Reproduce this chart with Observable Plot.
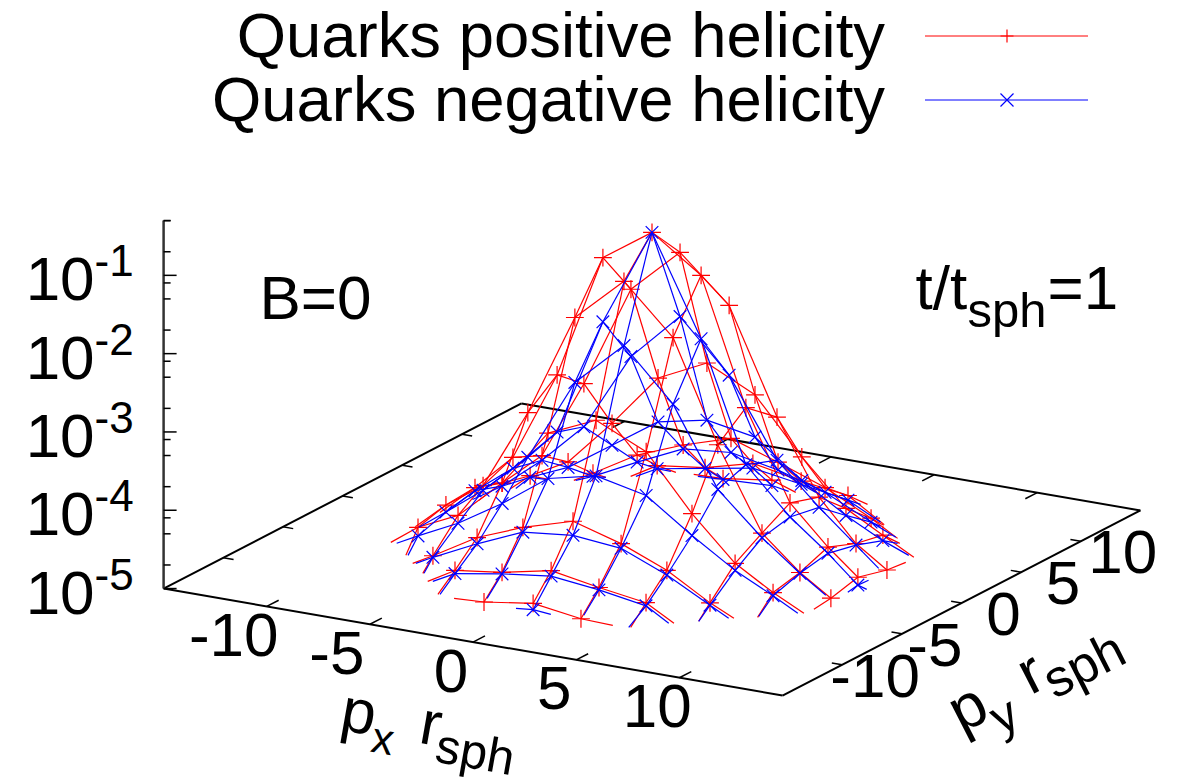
<!DOCTYPE html>
<html><head><meta charset="utf-8">
<script src="https://cdn.jsdelivr.net/npm/d3@7"></script>
<script src="https://cdn.jsdelivr.net/npm/@observablehq/plot@0.6"></script>
<style>
body{margin:0;background:#fff;font-family:"Liberation Sans",sans-serif;color:#000}
#legend{position:relative;z-index:1;width:1187px;height:130px}
#legend span{position:absolute;right:302px;font-size:63.4px;line-height:62px;white-space:nowrap}
#legend svg{position:absolute;left:925px;width:164px;height:16px;overflow:visible}
#chart svg{display:block}
</style></head><body>
<div id="legend">
<span style="top:4px">Quarks positive helicity</span>
<svg style="top:28px"><line x1="0" x2="163" y1="8" y2="8" stroke="#f00"/><path d="M82 1.5V14.5M75.5 8H88.5" stroke="#f00" stroke-width="1.2"/></svg>
<span style="top:68px">Quarks negative helicity</span>
<svg style="top:92px"><line x1="0" x2="163" y1="8" y2="8" stroke="#00f"/><path d="M75.5 1.5L88.5 14.5M75.5 14.5L88.5 1.5" stroke="#00f" stroke-width="1.2"/></svg>
</div>
<div id="chart"></div>
<script>
// momentum lattice: one row per p_y value
const pyRows   = [-10,-8.3,-6.5,-4.5,-2.35,0,2.35,4.5,6.5,8.3,10];
const latticeJ = [-5,-4,-3,-2,-1,0,1,2,3,4,5];
const firstI   = [-1,-2,-3,-4,-4,-4,-4,-4,-3,-2,-1];
const pxRows = [
 [-2.36,0.02,2.34],
 [-4.75,-2.47,-0.09,2.23,4.51],
 [-6.86,-4.72,-2.50,-0.07,2.26,4.48,6.57],
 [-8.74,-6.80,-4.66,-2.44,-0.11,2.32,4.54,6.63,8.47],
 [-8.63,-6.83,-4.66,-2.38,0,2.38,4.55,6.69,8.53,10.03],
 [-8.58,-6.74,-4.60,-2.38,0,2.38,4.55,6.69,8.53,9.98],
 [-8.63,-6.69,-4.66,-2.38,0,2.38,4.70,6.74,8.53,10.03],
 [-8.51,-6.67,-4.54,-2.31,0.06,2.39,4.66,6.80,8.59],
 [-6.62,-4.48,-2.25,0.07,2.35,4.63,6.86],
 [-4.55,-2.23,0.09,2.43,4.70],
 [-2.34,0.03]];
// log10 of the distribution, positive helicity
const redLog = [
 [-4.99,-4.90,-4.99],
 [-4.83,-4.75,-4.62,-4.73,-4.82],
 [-4.88,-4.55,-4.32,-4.13,-4.31,-4.55,-4.87],
 [-4.76,-4.52,-4.01,-3.27,-3.00,-3.29,-3.98,-4.52,-4.81],
 [-4.64,-4.31,-3.28,-1.96,-1.39,-2.00,-3.27,-4.30,-4.72,-4.98],
 [-4.60,-4.13,-2.98,-1.38,-0.95,-1.39,-2.98,-4.10,-4.58,-4.90],
 [-4.73,-4.29,-3.28,-1.97,-1.39,-1.96,-3.28,-4.21,-4.72,-4.99],
 [-4.80,-4.54,-3.95,-3.27,-2.97,-3.27,-3.96,-4.52,-4.78],
 [-4.84,-4.51,-4.28,-4.09,-4.29,-4.51,-4.80],
 [-4.79,-4.71,-4.55,-4.67,-4.75],
 [-4.99,-4.90]];
// log10 of the distribution, negative helicity (null: below the floor)
const blueLog = [
 [null,-4.98,null],
 [-4.87,-4.77,-4.69,-4.76,-4.86],
 [-4.90,-4.63,-4.38,-4.31,-4.37,-4.61,-4.90],
 [-4.87,-4.62,-4.27,-3.85,-3.71,-3.85,-4.26,-4.61,-4.85],
 [-4.73,-4.37,-3.85,-2.79,-2.21,-2.85,-3.84,-4.36,-4.73,null],
 [-4.64,-4.27,-3.71,-2.20,-0.95,-2.20,-3.71,-4.28,-4.66,-5.00],
 [-4.77,-4.35,-3.83,-2.83,-2.21,-2.85,-3.83,-4.34,-4.74,null],
 [-4.82,-4.61,-4.23,-3.83,-3.70,-3.81,-4.26,-4.61,-4.85],
 [-4.88,-4.60,-4.33,-4.27,-4.39,-4.57,-4.85],
 [-4.83,-4.72,-4.61,-4.71,-4.81],
 [-5.00,-4.97]];
// where outer grid lines leave the surface through the floor: [i, j, px, py]
const redExits = [[-4,-2,-9.99,-4.62],[-4,-2,-8.53,-5.88],[-3,-3,-7.72,-6.71],[-3,-3,-6.65,-7.71],[-2,-4,-5.91,-8.58],[-2,-4,-4.63,-9.94],[-1,-5,-3.76,-10.09],[1,-5,3.90,-10.03],[2,-4,5.98,-8.50],[2,-4,4.69,-9.90],[3,-3,7.81,-6.64],[3,-3,6.74,-7.74],[4,-2,10.0,-4.56],[4,-2,8.60,-6.02],[5,-1,10.08,-3.86],[5,1,10.12,3.77],[4,2,10.06,4.55],[4,2,8.57,5.95],[3,3,8.14,6.51],[3,3,6.72,7.80],[2,4,6.69,7.9],[2,4,4.66,10.01],[1,4,2.19,10.2],[0,5,1.21,9.96],[-1,5,-3.76,10.0],[-2,4,-5.91,8.43],[-2,4,-4.55,9.87],[-3,3,-7.70,6.76],[-3,3,-6.74,7.79],[-4,2,-9.42,4.45],[-4,2,-8.68,6.35],[-4,1,-9.74,2.33],[-4,0,-10.31,0.05],[-4,-1,-10.2,-2.2]];
const blueExits = [[-4,-2,-9.71,-4.61],[-4,-2,-8.45,-5.84],[-3,-3,-7.61,-6.64],[-3,-3,-6.61,-7.68],[-2,-4,-5.72,-8.48],[-2,-4,-4.55,-9.90],[-1,-4,-2.56,-9.40],[0,-5,-0.81,-10.0],[0,-5,0.88,-10.0],[1,-4,2.14,-9.42],[2,-4,5.79,-8.61],[2,-4,4.62,-9.94],[3,-3,7.62,-6.75],[3,-3,6.74,-7.74],[4,-2,9.78,-4.69],[4,-2,8.57,-5.87],[4,-1,9.53,-1.91],[5,0,10.12,-1.09],[5,0,10.03,0.81],[5,0,10.6,-0.33],[4,1,9.56,2.47],[4,2,9.74,4.68],[4,2,8.49,5.91],[3,3,8.0,6.60],[3,3,6.68,7.61],[2,4,4.41,9.86],[2,4,6.40,8.10],[1,4,1.94,10.38],[0,5,0.88,9.93],[-1,5,-3.47,9.84],[-2,4,-5.72,8.54],[-2,4,-4.80,9.88],[-3,3,-7.63,6.80],[-3,3,-6.74,7.79],[-4,2,-9.24,4.56],[-4,2,-8.79,6.29],[-4,1,-10.03,2.3],[-4,0,-10.1,0.05],[-4,-1,-10.03,-2.2]];
// axes
const axisTicks = [-10,-5,0,5,10];
const zDecades = [-5,-4,-3,-2,-1];
const zMinorFactors = [2,5,8];
const zTop = 0.5, zFloor = -5, boxEdge = 15;

// gnuplot-style parallel view of (p_x, p_y, log10 f) onto the page
const viewX = (px,py) => 651.5 + 20.63*px + 11.93*py;
const viewY = (px,py,L=zFloor) => 549 + 3.567*px - 6.17*py - 78.3*(L-zFloor);

function buildSeries(values, exits){
  const nodes = new Map(), edges = [];
  latticeJ.forEach((j,r)=>pxRows[r].forEach((px,k)=>{
    const v = values[r][k];
    if(v!==null) nodes.set(`${firstI[r]+k},${j}`,{px,py:pyRows[r],L:v,i:firstI[r]+k,j});
  }));
  for(const n of nodes.values()){
    for(const m of [nodes.get(`${n.i+1},${n.j}`),nodes.get(`${n.i},${n.j+1}`)]) if(m) edges.push([n,m]);
  }
  for(const [i,j,px,py] of exits){
    const n = nodes.get(`${i},${j}`);
    if(n) edges.push([n,{px,py,L:zFloor}]);
  }
  return {nodes:[...nodes.values()],edges};
}
const red = buildSeries(redLog,redExits), blue = buildSeries(blueLog,blueExits);
const corners = [[-1,-1],[1,-1],[1,1],[-1,1]].map(([a,b])=>[a*boxEdge,b*boxEdge]);
const box = corners.map((c,k)=>[c,corners[(k+1)%4]]);
const zMinor = d3.range(zFloor,0).flatMap(d=>zMinorFactors.map(f=>d+Math.log10(f))).filter(v=>v<=Math.log10(zTop)+1e-9).concat([Math.log10(zTop)]);
const xTickMarks = axisTicks.flatMap(t=>[[t,-boxEdge,t,-boxEdge+1],[t,boxEdge,t,boxEdge-1]]);
const yTickMarks = axisTicks.flatMap(t=>[[-boxEdge,t,-boxEdge+0.5,t],[boxEdge,t,boxEdge-0.5,t]]);
const sx0 = viewX(-boxEdge,-boxEdge);
const FS = 62, SUB = 44, SUB2 = 49;
const link = (data,opt)=>Plot.link(data,{x1:d=>viewX(d[0],d[1]),y1:d=>viewY(d[0],d[1]),x2:d=>viewX(d[2],d[3]),y2:d=>viewY(d[2],d[3]),...opt});
const surface = (s,color)=>Plot.link(s.edges,{x1:d=>viewX(d[0].px,d[0].py),y1:d=>viewY(d[0].px,d[0].py,d[0].L),x2:d=>viewX(d[1].px,d[1].py),y2:d=>viewY(d[1].px,d[1].py,d[1].L),stroke:color,strokeWidth:1.2});
const points = (s,color,symbol)=>Plot.dot(s.nodes,{x:d=>viewX(d.px,d.py),y:d=>viewY(d.px,d.py,d.L),symbol,r:5.8,stroke:color,strokeWidth:1.2});
const label = (text,x,y,size,rotate=0,anchor="start")=>Plot.text([text],{x:()=>x,y:()=>y,text:d=>d,fontSize:size,rotate,textAnchor:anchor,lineAnchor:"bottom",fill:"#000"});

const plot = Plot.plot({
  width:1187,height:647,marginTop:0,marginRight:0,marginBottom:0,marginLeft:0,
  style:{fontFamily:'"Liberation Sans",sans-serif',background:"transparent",overflow:"hidden"},
  x:{domain:[0,1187],range:[0,1187],axis:null},
  y:{domain:[130,777],range:[0,647],axis:null},
  marks:[
    link(box.map(([a,b])=>[...a,...b]),{stroke:"#000",strokeWidth:2}),
    link(xTickMarks,{stroke:"#000",strokeWidth:1.5}),
    link(yTickMarks,{stroke:"#000",strokeWidth:1.5}),
    Plot.link([0],{x1:()=>sx0,x2:()=>sx0,y1:()=>viewY(-boxEdge,-boxEdge),y2:()=>viewY(-boxEdge,-boxEdge,Math.log10(zTop)),stroke:"#333",strokeWidth:2.5}),
    Plot.link(zDecades,{x1:()=>sx0,x2:()=>sx0+13,y1:d=>viewY(-boxEdge,-boxEdge,d),y2:d=>viewY(-boxEdge,-boxEdge,d),stroke:"#000",strokeWidth:1.5}),
    Plot.link(zMinor,{x1:()=>sx0,x2:()=>sx0+7,y1:d=>viewY(-boxEdge,-boxEdge,d),y2:d=>viewY(-boxEdge,-boxEdge,d),stroke:"#000",strokeWidth:1.5}),
    surface(red,"#f00"),points(red,"#f00","plus"),
    surface(blue,"#00f"),points(blue,"#00f","times"),
    Plot.text(zDecades,{x:()=>sx0,y:d=>viewY(-boxEdge,-boxEdge,d),dx:-69,dy:25,text:()=>"10",textAnchor:"end",lineAnchor:"bottom",fontSize:FS}),
    Plot.text(zDecades,{x:()=>sx0,y:d=>viewY(-boxEdge,-boxEdge,d),dx:-69,dy:1,text:d=>String(d),textAnchor:"start",lineAnchor:"bottom",fontSize:SUB}),
    Plot.text(axisTicks,{x:d=>viewX(d,-boxEdge)-(d<0?33:22),y:d=>viewY(d,-boxEdge)+49.5,text:d=>String(d),textAnchor:"middle",lineAnchor:"bottom",fontSize:FS}),
    Plot.text(axisTicks,{x:d=>viewX(boxEdge,d)+(d<0?33:42),y:d=>viewY(boxEdge,d)+32,text:d=>String(d),textAnchor:"middle",lineAnchor:"bottom",fontSize:FS}),
    label("B=0",259,318,FS),
    label("t/t",915,308,FS),label("sph",967,326,SUB2),label("=1",1047,308,FS),
    label("p",338,729,FS,10),label("x",369,751,SUB,10),label("r",417,742,FS,10),label("sph",433,761,SUB2,10),
    label("p",961,733,FS,-27),label("y",1000,735,SUB2,-27),label("r",1030,695,FS,-27),label("sph",1054,699,SUB2+3,-27)
  ]
});
document.getElementById("chart").append(plot);
</script>
</body></html>
